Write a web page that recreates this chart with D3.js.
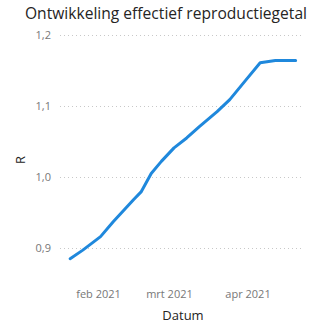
<!DOCTYPE html>
<html>
<head>
<meta charset="utf-8">
<script src="https://cdn.jsdelivr.net/npm/d3@7"></script>
<style>
  html, body { margin: 0; padding: 0; background: #fff; }
  svg { display: block; font-family: "Open Sans", "Noto Sans", sans-serif; }
</style>
</head>
<body>
<div id="chart"></div>
<script>
// --- Data ---
const dates = [
  '2021-01-21', '2021-01-26', '2021-02-02', '2021-02-07', '2021-02-15',
  '2021-02-18', '2021-02-22', '2021-02-26', '2021-03-03', '2021-03-08',
  '2021-03-13', '2021-03-20', '2021-03-25', '2021-03-31', '2021-04-06',
  '2021-04-12', '2021-04-20'
];
const rValues = [
  0.885, 0.897, 0.916, 0.937, 0.968,
  0.979, 1.005, 1.022, 1.041, 1.055,
  1.071, 1.092, 1.109, 1.135, 1.161,
  1.164, 1.164
];
const yTicks = [0.9, 1.0, 1.1, 1.2];
const xTicks = ['2021-02-01', '2021-03-01', '2021-04-01'];
const monthNames = ['jan', 'feb', 'mrt', 'apr', 'mei', 'jun', 'jul', 'aug', 'sep', 'okt', 'nov', 'dec'];

const width = 310, height = 327;
const parse = d3.utcParse('%Y-%m-%d');
const data = dates.map((d, i) => ({ date: parse(d), r: rValues[i] }));

const svg = d3.select('#chart').append('svg')
  .attr('width', width)
  .attr('height', height);

// scales
const x = d3.scaleUtc()
  .domain([parse('2021-02-01'), parse('2021-04-01')])
  .range([98, 247.5]);
const y = d3.scaleLinear()
  .domain([0.9, 1.2])
  .range([248, 35]);

// title
svg.append('text')
  .attr('x', 166)
  .attr('y', 19)
  .attr('text-anchor', 'middle')
  .attr('font-size', 15.6)
  .attr('fill', '#252423')
  .text('Ontwikkeling effectief reproductiegetal');

// y grid + labels
const yAxis = svg.append('g')
  .attr('transform', 'translate(60,0)')
  .call(d3.axisLeft(y)
    .tickValues(yTicks)
    .tickSize(-242)
    .tickPadding(9)
    .tickFormat(d => d3.format('.1f')(d).replace('.', ',')));
yAxis.select('.domain').remove();
yAxis.selectAll('.tick line')
  .attr('stroke', '#c8c8c8')
  .attr('stroke-dasharray', '1,3');
yAxis.selectAll('.tick text')
  .attr('fill', '#777')
  .attr('font-size', 11)
  .attr('font-family', '"Open Sans", sans-serif');

// x labels
const xAxis = svg.append('g')
  .attr('transform', 'translate(0,284)')
  .call(d3.axisBottom(x)
    .tickValues(xTicks.map(parse))
    .tickSize(0)
    .tickPadding(6)
    .tickFormat(d => monthNames[d.getUTCMonth()] + ' ' + d.getUTCFullYear()));
xAxis.select('.domain').remove();
xAxis.selectAll('.tick text')
  .attr('fill', '#777')
  .attr('font-size', 11)
  .attr('font-family', '"Open Sans", sans-serif');

// axis titles
svg.append('text')
  .attr('x', 183)
  .attr('y', 320)
  .attr('text-anchor', 'middle')
  .attr('font-size', 13)
  .attr('fill', '#252423')
  .text('Datum');

svg.append('text')
  .attr('transform', 'translate(25,160) rotate(-90)')
  .attr('text-anchor', 'middle')
  .attr('font-size', 13)
  .attr('fill', '#252423')
  .text('R');

// line
const line = d3.line()
  .x(d => x(d.date))
  .y(d => y(d.r));

svg.append('path')
  .datum(data)
  .attr('fill', 'none')
  .attr('stroke', '#1f88dc')
  .attr('stroke-width', 3)
  .attr('stroke-linejoin', 'round')
  .attr('stroke-linecap', 'round')
  .attr('d', line);
</script>
</body>
</html>
